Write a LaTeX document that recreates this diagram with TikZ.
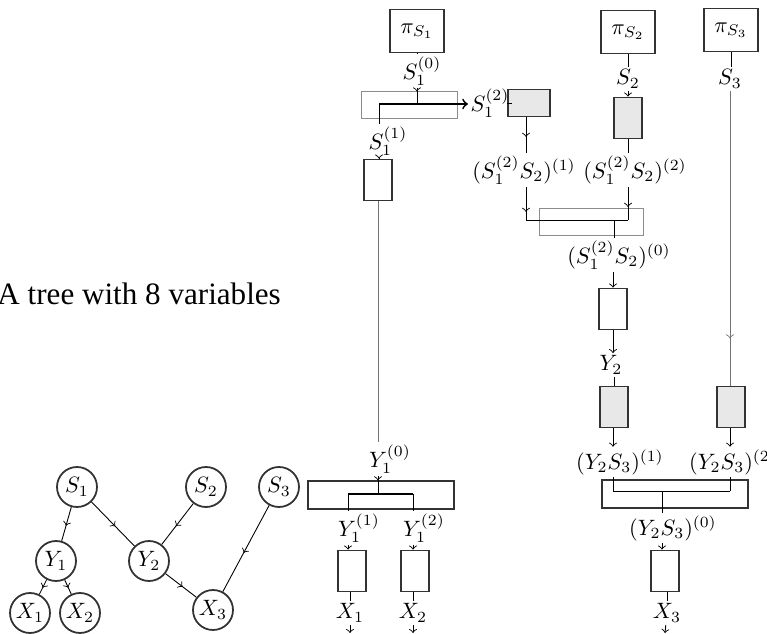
\documentclass[tikz,border=0pt]{standalone}
\usepackage{amsmath}
\usepackage{fontspec}
\newfontfamily\timesfont{Liberation Serif}
\usetikzlibrary{decorations.markings}

\begin{document}
\begin{tikzpicture}[x=0.45pt, y=-0.45pt,
        midarr/.style={postaction={decorate}, decoration={markings, mark=at position #1 with {\arrow{>}}}},
        midarr/.default=0.55]
        \tikzstyle{place}=[circle, draw=black!80, thick, minimum size=18pt, inner sep=0pt]
        \tikzstyle{factor}=[rectangle, draw=black!80, thick, minimum width=12.6pt, minimum height=18.5pt, inner sep=0pt]
        \tikzstyle{grayfac}=[factor, fill=black!9]
        \tikzstyle{widefac}=[factor, minimum width=66pt, minimum height=12.4pt]
        \tikzstyle{splitbox}=[rectangle, draw=black!45, minimum height=11.8pt, inner sep=0pt]
        \tikzstyle{prior}=[factor, minimum width=24.3pt, minimum height=19.4pt]
        \tikzstyle{lab}=[inner sep=1pt]
        \tikzstyle{longline}=[draw=black!55]

        \useasboundingbox (0,0) rectangle (767,634);

        % Title
        \draw node at (-3,305) [anchor=base west, inner sep=0pt, font=\timesfont\fontsize{14}{17}\selectfont] (title) {A tree with 8 variables};

        % Tree
        \draw node at (77,487) [place] (s1) {$S_1$};
        \draw node at (206,487) [place] (s2) {$S_2$};
        \draw node at (279,487) [place] (s3) {$S_3$};
        \draw node at (56,561) [place] (y1) {$Y_1$};
        \draw node at (149,561) [place] (y2) {$Y_2$};
        \draw node at (30,613) [place] (x1) {$X_1$};
        \draw node at (80,613) [place] (x2) {$X_2$};
        \draw node at (213,610) [place] (x3) {$X_3$};

        \draw [midarr] (s1) -- (y1);
        \draw [midarr] (s1) -- (y2);
        \draw [midarr] (s2) -- (y2);
        \draw [midarr] (s3) -- (x3);
        \draw [midarr] (y1) -- (x1);
        \draw [midarr] (y1) -- (x2);
        \draw [midarr] (y2) -- (x3);

        % Column of S1
        \draw node at (417,31) [prior] (pi_1) {$\pi_{S_1}$};
        \draw node at (422,71) [lab] (s1_0) {$S_1^{(0)}$};
        \draw node at (409,105) [splitbox, minimum width=43.2pt] (split_s1) {};
        \coordinate (j_s1) at (417,104);
        \coordinate (j_s1l) at (379,104);
        \draw node at (490,103) [lab] (s1_2) {$S_1^{(2)}$};
        \draw node at (529,103) [grayfac, minimum width=19pt, minimum height=12.2pt] (g_s1) {};
        \draw node at (388,141) [lab] (s1_1) {$S_1^{(1)}$};
        \draw node at (378,180) [factor] (f_s1) {};

        \draw (pi_1) -- (s1_0.north -| pi_1);
        \draw [->] (s1_0.south -| pi_1) -- (split_s1.north -| pi_1);
        \draw (split_s1.north -| pi_1) -- (j_s1);
        \draw [thick, ->] (j_s1l) -- (s1_2.west |- j_s1l);
        \draw (j_s1l) -- (s1_1.north -| j_s1l);
        \draw [->] (s1_1.south -| j_s1l) -- (f_s1.north -| j_s1l);
        \draw (s1_2.east |- g_s1) -- (g_s1.west);

        % Y1 and its children
        \draw node at (390,459) [lab] (y1_0) {$Y_1^{(0)}$};
        \draw node at (381,495) [widefac] (w_y1) {};
        \coordinate (j_y1) at (378,494);
        \coordinate (j_y1l) at (348,494);
        \coordinate (j_y1r) at (413,494);
        \draw node at (359,528) [lab] (y1_1) {$Y_1^{(1)}$};
        \draw node at (424,528) [lab] (y1_2) {$Y_1^{(2)}$};
        \draw node at (352,571) [factor] (f_x1) {};
        \draw node at (415,571) [factor] (f_x2) {};
        \draw node at (350,613) [lab] (x1_out) {$X_1$};
        \draw node at (413,613) [lab] (x2_out) {$X_2$};
        \coordinate (e_x1) at (350,633);
        \coordinate (e_x2) at (413,633);

        \draw [longline] (f_s1) -- (y1_0.north -| f_s1);
        \draw [->] (y1_0.south -| f_s1) -- (w_y1.north -| f_s1);
        \draw (w_y1.north -| j_y1) -- (j_y1);
        \draw [thick] (j_y1l) -- (j_y1r);
        \draw (j_y1l) -- (y1_1.north -| j_y1l);
        \draw (j_y1r) -- (y1_2.north -| j_y1r);
        \draw [->] (y1_1.south -| j_y1l) -- (f_x1.north -| j_y1l);
        \draw [->] (y1_2.south -| j_y1r) -- (f_x2.north -| j_y1r);
        \draw (f_x1.south -| x1_out) -- (x1_out.north);
        \draw (f_x2.south -| x2_out) -- (x2_out.north);
        \draw [->] (x1_out) -- (e_x1);
        \draw [->] (x2_out) -- (e_x2);

        % Column of S2
        \draw node at (628,32) [prior] (pi_2) {$\pi_{S_2}$};
        \draw node at (628,79) [lab] (s2_lab) {$S_2$};
        \draw node at (628,118) [grayfac] (g_s2) {};
        \draw node at (524,170) [lab] (s12_1) {$(S_1^{(2)}S_2)^{(1)}$};
        \draw node at (635,170) [lab] (s12_2) {$(S_1^{(2)}S_2)^{(2)}$};
        \draw node at (591,222) [splitbox, minimum width=46.8pt] (split_s12) {};
        \coordinate (j_s12l) at (526,220);
        \coordinate (j_s12r) at (628,220);
        \coordinate (j_s12) at (614,220);
        \draw node at (619,255) [lab] (s12_0) {$(S_1^{(2)}S_2)^{(0)}$};
        \draw node at (613,309) [factor] (f_y2) {};
        \draw node at (611,365) [lab] (y2_lab) {$Y_2$};
        \draw node at (614,407) [grayfac] (g_y2) {};

        \draw (pi_2) -- (s2_lab);
        \draw [->] (s2_lab) -- (g_s2);
        \draw (g_s2) -- (s12_2.north -| g_s2);
        \draw [midarr=0.55] (g_s1.south -| j_s12l) -- (s12_1.north -| j_s12l);
        \draw [midarr=0.75] (s12_1.south -| j_s12l) -- (j_s12l);
        \draw [midarr=0.6] (s12_2.south -| j_s12r) -- (j_s12r);
        \draw (j_s12l) -- (j_s12r);
        \draw (j_s12) -- (s12_0.north -| j_s12);
        \draw [->] (s12_0.south -| f_y2) -- (f_y2);
        \draw [->] (f_y2) -- (y2_lab.north -| f_y2);
        \draw (y2_lab.south -| g_y2) -- (g_y2);

        % Column of S3
        \draw node at (731,30) [prior] (pi_3) {$\pi_{S_3}$};
        \draw node at (730,79) [lab] (s3_lab) {$S_3$};
        \draw node at (731,407) [grayfac] (g_s3) {};
        \draw node at (620,462) [lab] (ys_1) {$(Y_2S_3)^{(1)}$};
        \draw node at (733,462) [lab] (ys_2) {$(Y_2S_3)^{(2)}$};
        \draw node at (675,494) [widefac] (w_ys) {};
        \coordinate (j_ysl) at (613,491);
        \coordinate (j_ysr) at (730,491);
        \coordinate (j_ys) at (662,491);
        \draw node at (673,528) [lab] (ys_0) {$(Y_2S_3)^{(0)}$};
        \draw node at (665,571) [factor] (f_x3) {};
        \draw node at (667,613) [lab] (x3_out) {$X_3$};
        \coordinate (e_x3) at (665,633);

        \draw (pi_3) -- (s3_lab.north -| pi_3);
        \draw [longline, midarr=0.84] (s3_lab.south -| j_ysr) -- (g_s3.north -| j_ysr);
        \draw [->] (g_y2.south -| j_ysl) -- (ys_1.north -| j_ysl);
        \draw [->] (g_s3.south -| j_ysr) -- (ys_2.north -| j_ysr);
        \draw (ys_1.south -| j_ysl) -- (j_ysl);
        \draw (ys_2.south -| j_ysr) -- (j_ysr);
        \draw (j_ysl) -- (j_ysr);
        \draw (j_ys) -- (ys_0.north -| j_ys);
        \draw [->] (ys_0.south -| j_ys) -- (f_x3.north -| j_ys);
        \draw (f_x3.south -| x3_out) -- (x3_out.north);
        \draw [->] (x3_out) -- (e_x3);
\end{tikzpicture}
\end{document}
